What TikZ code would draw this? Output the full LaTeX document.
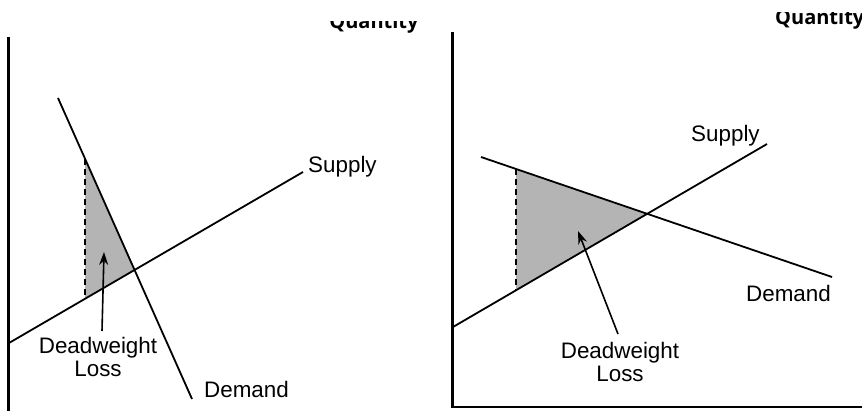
\documentclass[tikz,border=0pt]{standalone}
\usepackage{fontspec}
\setmainfont{Liberation Sans}
\newfontfamily\qfont{Open Sans}
\usetikzlibrary{arrows.meta}
\definecolor{dwlgray}{RGB}{180,180,180}
\tikzset{
  curve/.style={line width=1.8pt},
  axisline/.style={line width=2.6pt},
  dwlarea/.style={fill=dwlgray},
  dashline/.style={line width=1.6pt, dash pattern=on 6pt off 4pt},
  pointer/.style={line width=1.6pt, -{Stealth[length=13pt,width=9pt]}},
  lbl/.style={inner sep=0pt, font=\fontsize{22.4}{24}\selectfont},
  qlbl/.style={inner sep=0pt, font=\qfont\bfseries\fontsize{20}{22}\selectfont}
}
\begin{document}
\begin{tikzpicture}[x=1pt,y=-1pt]
\useasboundingbox (0,0) rectangle (862,411);
% ---------- left panel ----------
\coordinate (LAtop) at (8.5,37);
\coordinate (LAbot) at (8.5,411);
\coordinate (LD1) at (58,98);
\coordinate (LD2) at (192,399);
\coordinate (LS1) at (9,343);
\coordinate (LS2) at (303,172);
\coordinate (LE) at (134,270);
\coordinate (LP1) at (85,159);
\coordinate (LP2) at (85,298);
\coordinate (LArT) at (102,331);
\coordinate (LArH) at (104,252);
\fill[dwlarea] (LP1) -- (LE) -- (LP2) -- cycle;
\draw[dashline] (LP1) -- (LP2);
\draw[axisline] (LAtop) -- (LAbot);
\draw[curve] (LD1) -- (LD2);
\draw[curve] (LS1) -- (LS2);
\draw[pointer] (LArT) -- (LArH);
\node[lbl, anchor=base west] (LSup) at (308,173) {Supply};
\node[lbl, anchor=base west] (LDem) at (204,398) {Demand};
\node[lbl, anchor=base] (LDw) at (98,354) {Deadweight};
\node[lbl, anchor=base] (LLoss) at (98,377) {Loss};
\begin{scope}
\clip (300,22) rectangle (440,40);
\node[qlbl, anchor=base] (LQ) at (374,29) {Quantity};
\end{scope}
% ---------- right panel ----------
\coordinate (RAtop) at (452.5,32);
\coordinate (RAcor) at (452.5,407);
\coordinate (RAend) at (862,407);
\coordinate (RD1) at (481,157);
\coordinate (RD2) at (832,277);
\coordinate (RS1) at (453,327);
\coordinate (RS2) at (767,144);
\coordinate (RE) at (647.5,214);
\coordinate (RP1) at (516,169);
\coordinate (RP2) at (516,290);
\coordinate (RArT) at (618,334);
\coordinate (RArH) at (578,231);
\fill[dwlarea] (RP1) -- (RE) -- (RP2) -- cycle;
\draw[dashline] (RP1) -- (RP2);
\draw[axisline] (RAtop) -- (RAcor) -- (RAend);
\draw[curve] (RD1) -- (RD2);
\draw[curve] (RS1) -- (RS2);
\draw[pointer] (RArT) -- (RArH);
\node[lbl, anchor=base west] (RSup) at (691,142) {Supply};
\node[lbl, anchor=base west] (RDem) at (746,302) {Demand};
\node[lbl, anchor=base] (RDw) at (620,359) {Deadweight};
\node[lbl, anchor=base] (RLoss) at (620,382) {Loss};
\begin{scope}
\clip (740,13) rectangle (862,40);
\node[qlbl, anchor=base west] (RQ) at (775,25) {Quantity};
\end{scope}
\end{tikzpicture}
\end{document}
